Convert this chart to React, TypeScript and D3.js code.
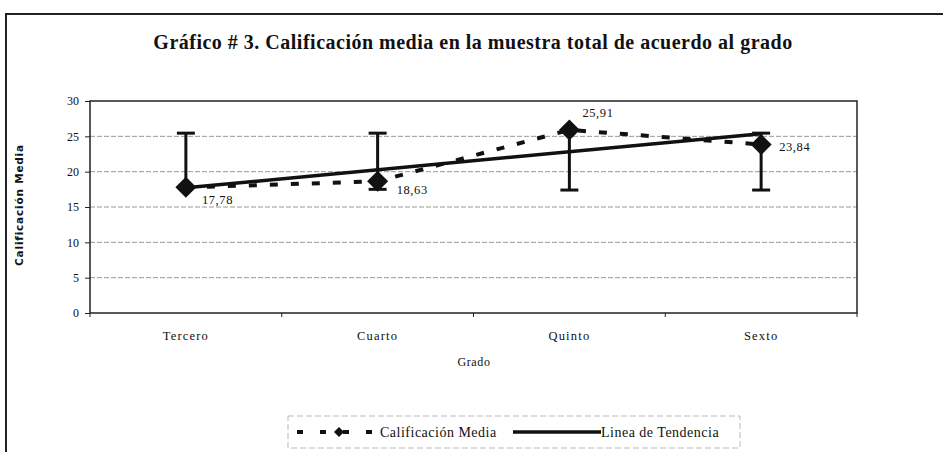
import React, { useRef, useEffect } from 'react';
import * as d3 from 'd3';

const grados = ['Tercero', 'Cuarto', 'Quinto', 'Sexto'];
const medias = [17.78, 18.63, 25.91, 23.84];
const etiquetas = ['17,78', '18,63', '25,91', '23,84'];
const errorBajo = [17.78, 17.5, 17.4, 17.4];
const errorAlto = [25.45, 25.45, 25.91, 25.45];
const tendencia = [17.72, 25.36]; // Tercero -> Sexto
const yTicks = [0, 5, 10, 15, 20, 25, 30];

const labelOffsets: [number, number][] = [[16, 17], [19, 13], [13, -13], [18, 6]];

const W = 943;
const H = 452;
const serif = '"Liberation Serif", "DejaVu Serif", serif';

const diamond = (cx: number, cy: number, r: number) =>
    `M${cx},${cy - r}L${cx + r},${cy}L${cx},${cy + r}L${cx - r},${cy}Z`;

const App: React.FC = () => {
    const svgRef = useRef<SVGSVGElement>(null);

    useEffect(() => {
        if (!svgRef.current) return;
        const svg = d3.select(svgRef.current);
        svg.selectAll('*').remove();

        const left = 90, right = 857, top = 101, bottom = 313;

        const x = d3.scaleBand<string>().domain(grados).range([left, right]);
        const y = d3.scaleLinear().domain([0, 30]).range([bottom, top]);
        const cx = (i: number) => (x(grados[i]) as number) + x.bandwidth() / 2;

        svg.append('rect').attr('width', W).attr('height', H).attr('fill', 'white');

        // outer frame
        svg.append('path')
            .attr('d', `M6,${H + 5}L6,14L${W + 5},14`)
            .attr('fill', 'none')
            .attr('stroke', '#222')
            .attr('stroke-width', 2);

        // title
        svg.append('text')
            .attr('x', 473)
            .attr('y', 49)
            .attr('text-anchor', 'middle')
            .attr('font-family', serif)
            .attr('font-weight', 'bold')
            .attr('font-size', 20)
            .attr('letter-spacing', 0.5)
            .attr('fill', '#111')
            .text('Gráfico # 3. Calificación media en la muestra total de acuerdo al grado');

        // grid
        svg.append('g')
            .selectAll('line')
            .data(yTicks.filter(d => d > 0 && d < 30))
            .enter()
            .append('line')
            .attr('x1', left)
            .attr('x2', right)
            .attr('y1', d => y(d))
            .attr('y2', d => y(d))
            .attr('stroke', '#999')
            .attr('stroke-width', 1)
            .attr('stroke-dasharray', '5,2');

        // plot border
        svg.append('rect')
            .attr('x', left)
            .attr('y', top)
            .attr('width', right - left)
            .attr('height', bottom - top)
            .attr('fill', 'none')
            .attr('stroke', '#222')
            .attr('stroke-width', 1.5);

        // y axis
        const yAxis = d3.axisLeft(y).tickValues(yTicks).tickSize(5).tickSizeOuter(0);
        const gy = svg.append('g').attr('transform', `translate(${left},0)`).call(yAxis);
        gy.select('.domain').remove();
        gy.selectAll('line').attr('stroke', '#222');
        gy.selectAll('text')
            .attr('font-family', serif)
            .attr('font-size', 12)
            .attr('fill', '#111')
            .attr('x', -11);

        // x axis ticks (between categories)
        const bounds = grados.map((g) => x(g) as number).concat([right]);
        svg.append('g')
            .selectAll('line')
            .data(bounds)
            .enter()
            .append('line')
            .attr('x1', d => d)
            .attr('x2', d => d)
            .attr('y1', bottom)
            .attr('y2', bottom + 4)
            .attr('stroke', '#222');

        svg.append('g')
            .selectAll('text')
            .data(grados)
            .enter()
            .append('text')
            .attr('x', (_, i) => cx(i))
            .attr('y', 340)
            .attr('text-anchor', 'middle')
            .attr('font-family', serif)
            .attr('font-size', 12.5)
            .attr('letter-spacing', 1.2)
            .attr('fill', '#111')
            .text(d => d);

        svg.append('text')
            .attr('x', 474)
            .attr('y', 366)
            .attr('text-anchor', 'middle')
            .attr('font-family', serif)
            .attr('font-size', 12)
            .attr('letter-spacing', 0.6)
            .attr('fill', '#111')
            .text('Grado');

        svg.append('text')
            .attr('transform', 'translate(23,205) rotate(-90)')
            .attr('text-anchor', 'middle')
            .attr('font-family', '"DejaVu Sans", sans-serif')
            .attr('font-weight', 'bold')
            .attr('font-size', 10.5)
            .attr('letter-spacing', 0.8)
            .attr('fill', '#111')
            .text('Calificación Media');

        // error bars
        const eb = svg.append('g');
        grados.forEach((_, i) => {
            const xc = cx(i);
            eb.append('line')
                .attr('x1', xc).attr('x2', xc)
                .attr('y1', y(errorBajo[i])).attr('y2', y(errorAlto[i]))
                .attr('stroke', '#111').attr('stroke-width', 3);
            if (errorAlto[i] > medias[i]) {
                eb.append('line')
                    .attr('x1', xc - 9).attr('x2', xc + 9)
                    .attr('y1', y(errorAlto[i])).attr('y2', y(errorAlto[i]))
                    .attr('stroke', '#111').attr('stroke-width', 3);
            }
            if (errorBajo[i] < medias[i]) {
                eb.append('line')
                    .attr('x1', xc - 9).attr('x2', xc + 9)
                    .attr('y1', y(errorBajo[i])).attr('y2', y(errorBajo[i]))
                    .attr('stroke', '#111').attr('stroke-width', 3);
            }
        });

        // dashed mean line
        const line = d3.line<number>().x((_, i) => cx(i)).y(d => y(d));
        svg.append('path')
            .attr('d', line(medias))
            .attr('fill', 'none')
            .attr('stroke', '#111')
            .attr('stroke-width', 4)
            .attr('stroke-dasharray', '8,13');

        // trend line
        svg.append('line')
            .attr('x1', cx(0)).attr('y1', y(tendencia[0]))
            .attr('x2', cx(3)).attr('y2', y(tendencia[1]))
            .attr('stroke', '#111')
            .attr('stroke-width', 3.5);

        // markers
        svg.append('g')
            .selectAll('path')
            .data(medias)
            .enter()
            .append('path')
            .attr('d', (d, i) => diamond(cx(i), y(d), 10.5))
            .attr('fill', '#111');

        // value labels
        svg.append('g')
            .selectAll('text')
            .data(medias)
            .enter()
            .append('text')
            .attr('x', (_, i) => cx(i) + labelOffsets[i][0])
            .attr('y', (d, i) => y(d) + labelOffsets[i][1])
            .attr('font-family', serif)
            .attr('font-size', 12.5)
            .attr('letter-spacing', 0.6)
            .attr('fill', '#111')
            .text((_, i) => etiquetas[i]);

        // legend
        const lg = svg.append('g');
        lg.append('rect')
            .attr('x', 288).attr('y', 416)
            .attr('width', 452).attr('height', 32)
            .attr('fill', 'none')
            .attr('stroke', '#aaa')
            .attr('stroke-width', 0.8)
            .attr('stroke-dasharray', '6,3');
        lg.append('line')
            .attr('x1', 297).attr('x2', 376)
            .attr('y1', 432).attr('y2', 432)
            .attr('stroke', '#111').attr('stroke-width', 4)
            .attr('stroke-dasharray', '6,17');
        lg.append('path').attr('d', diamond(339, 432, 5)).attr('fill', '#111');
        lg.append('text')
            .attr('x', 380).attr('y', 437)
            .attr('font-family', serif).attr('font-size', 14)
            .attr('letter-spacing', 0.5)
            .attr('fill', '#111')
            .text('Calificación Media');
        lg.append('line')
            .attr('x1', 513).attr('x2', 601)
            .attr('y1', 432).attr('y2', 432)
            .attr('stroke', '#111').attr('stroke-width', 3.5);
        lg.append('text')
            .attr('x', 601).attr('y', 437)
            .attr('font-family', serif).attr('font-size', 14)
            .attr('letter-spacing', 0.5)
            .attr('fill', '#111')
            .text('Linea de Tendencia');
    }, []);

    return (
        <svg
            ref={svgRef}
            width={W}
            height={H}
            style={{ position: 'absolute', left: 0, top: 0 }}
        />
    );
};

export default App;
